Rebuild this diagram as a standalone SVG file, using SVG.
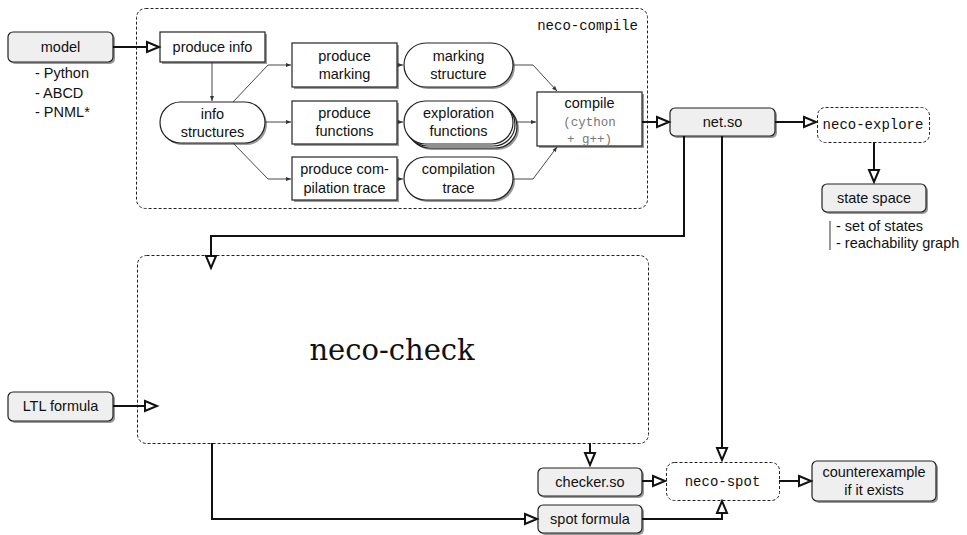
<svg xmlns="http://www.w3.org/2000/svg" width="967" height="535" viewBox="0 0 967 535">
<style>
  .sans { font-family: "Liberation Sans", Arial, sans-serif; font-size: 14.5px; fill: #111; }
  .mono { font-family: "Liberation Mono", "DejaVu Sans Mono", monospace; font-size: 14px; fill: #111; }
  .gmono { font-family: "Liberation Mono", "DejaVu Sans Mono", monospace; font-size: 12.5px; fill: #777; }
  .big { font-family: "DejaVu Serif", "Liberation Serif", serif; font-size: 29px; fill: #111; }
  .grey { fill: #efefef; stroke: #222; stroke-width: 1.2; }
  .white { fill: #fff; stroke: #222; stroke-width: 1.2; }
  .shadow { fill: #9a9a9a; stroke: none; }
  .dash { fill: none; stroke: #222; stroke-width: 1; stroke-dasharray: 3 2; }
  .thick { fill: none; stroke: #111; stroke-width: 2; marker-end: url(#hollow); }
  .thin { fill: none; stroke: #333; stroke-width: 0.9; marker-end: url(#small); }
</style>
<defs>
  <marker id="hollow" markerUnits="userSpaceOnUse" viewBox="-2 -2 17 14" refX="12" refY="5" markerWidth="17" markerHeight="14" orient="auto">
    <path d="M0,0 L12,5 L0,10 Z" fill="#fff" stroke="#111" stroke-width="2" stroke-linejoin="miter"/>
  </marker>
  <marker id="small" markerUnits="userSpaceOnUse" viewBox="0 0 5 4" refX="5" refY="2" markerWidth="5" markerHeight="4" orient="auto">
    <path d="M0,0 L5,2 L0,4 Z" fill="#333"/>
  </marker>
</defs>

<!-- containers -->
<g id="neco-compile">
  <rect class="dash" x="136.5" y="8.5" width="511" height="200" rx="9"/>
  <text class="mono" x="638" y="30" text-anchor="end">neco-compile</text>
</g>
<g id="neco-check">
  <rect class="dash" x="137.5" y="255.5" width="511" height="188" rx="9"/>
  <text class="big" x="392" y="360" text-anchor="middle">neco-check</text>
</g>

<!-- nodes -->
<g id="model">
  <rect class="shadow" x="10" y="34" width="105" height="30" rx="5"/>
  <rect class="grey" x="8" y="32" width="105" height="30" rx="5"/>
  <text class="sans" x="60.5" y="52" text-anchor="middle">model</text>
  <text class="sans" x="35" y="78">- Python</text>
  <text class="sans" x="35" y="98">- ABCD</text>
  <text class="sans" x="35" y="117">- PNML*</text>
</g>
<g id="produce-info">
  <rect class="shadow" x="162" y="34" width="105" height="30"/>
  <rect class="white" x="160" y="32" width="105" height="30"/>
  <text class="sans" x="212.5" y="52" text-anchor="middle">produce info</text>
</g>
<g id="info-structures">
  <rect class="shadow" x="162" y="104" width="105" height="41" rx="20.5"/>
  <rect class="white" x="160" y="102" width="105" height="41" rx="20.5"/>
  <text class="sans" x="212.5" y="119" text-anchor="middle">info</text>
  <text class="sans" x="212.5" y="137" text-anchor="middle">structures</text>
</g>
<g id="produce-marking">
  <rect class="shadow" x="294" y="45" width="105" height="44"/>
  <rect class="white" x="292" y="43" width="105" height="44"/>
  <text class="sans" x="344.5" y="61" text-anchor="middle">produce</text>
  <text class="sans" x="344.5" y="79" text-anchor="middle">marking</text>
</g>
<g id="marking-structure">
  <rect class="shadow" x="406" y="45" width="109" height="44" rx="22"/>
  <rect class="white" x="404" y="43" width="109" height="44" rx="22"/>
  <text class="sans" x="458.5" y="61" text-anchor="middle">marking</text>
  <text class="sans" x="458.5" y="79" text-anchor="middle">structure</text>
</g>
<g id="produce-functions">
  <rect class="shadow" x="294" y="103" width="105" height="43"/>
  <rect class="white" x="292" y="101" width="105" height="43"/>
  <text class="sans" x="344.5" y="118" text-anchor="middle">produce</text>
  <text class="sans" x="344.5" y="136" text-anchor="middle">functions</text>
</g>
<g id="exploration-functions">
  <rect class="shadow" x="410" y="107" width="109" height="43" rx="21.5"/>
  <rect class="white" x="408" y="105" width="109" height="43" rx="21.5"/>
  <rect class="white" x="406" y="103" width="109" height="43" rx="21.5"/>
  <rect class="white" x="404" y="101" width="109" height="43" rx="21.5"/>
  <text class="sans" x="458.5" y="118" text-anchor="middle">exploration</text>
  <text class="sans" x="458.5" y="136" text-anchor="middle">functions</text>
</g>
<g id="produce-compilation-trace">
  <rect class="shadow" x="294" y="159" width="105" height="43"/>
  <rect class="white" x="292" y="157" width="105" height="43"/>
  <text class="sans" x="344.5" y="174" text-anchor="middle">produce com-</text>
  <text class="sans" x="344.5" y="193" text-anchor="middle">pilation trace</text>
</g>
<g id="compilation-trace">
  <rect class="shadow" x="406" y="159" width="109" height="43" rx="21.5"/>
  <rect class="white" x="404" y="157" width="109" height="43" rx="21.5"/>
  <text class="sans" x="458.5" y="174" text-anchor="middle">compilation</text>
  <text class="sans" x="458.5" y="193" text-anchor="middle">trace</text>
</g>
<g id="compile">
  <rect class="shadow" x="539" y="94" width="105" height="54"/>
  <rect class="white" x="537" y="92" width="105" height="54"/>
  <text class="sans" x="589.5" y="108" text-anchor="middle">compile</text>
  <text class="gmono" x="589.5" y="126" text-anchor="middle">(cython</text>
  <text class="gmono" x="589.5" y="143" text-anchor="middle">+ g++)</text>
</g>
<g id="net-so">
  <rect class="shadow" x="672" y="110" width="105" height="28" rx="5"/>
  <rect class="grey" x="670" y="108" width="105" height="28" rx="5"/>
  <text class="sans" x="722.5" y="127" text-anchor="middle">net.so</text>
</g>
<g id="neco-explore">
  <rect class="dash" x="817.5" y="107.5" width="112" height="35" rx="8"/>
  <text class="mono" x="873" y="129" text-anchor="middle">neco-explore</text>
</g>
<g id="state-space">
  <rect class="shadow" x="824" y="186" width="104" height="28" rx="5"/>
  <rect class="grey" x="822" y="184" width="104" height="28" rx="5"/>
  <text class="sans" x="874" y="203" text-anchor="middle">state space</text>
  <line x1="830" y1="221" x2="830" y2="250" stroke="#333" stroke-width="1"/>
  <text class="sans" x="836" y="231">- set of states</text>
  <text class="sans" x="836" y="248">- reachability graph</text>
</g>
<g id="ltl-formula">
  <rect class="shadow" x="10" y="394" width="105" height="29" rx="5"/>
  <rect class="grey" x="8" y="392" width="105" height="29" rx="5"/>
  <text class="sans" x="60.5" y="411" text-anchor="middle">LTL formula</text>
</g>
<g id="checker-so">
  <rect class="shadow" x="540" y="470" width="104" height="28" rx="5"/>
  <rect class="grey" x="538" y="468" width="104" height="28" rx="5"/>
  <text class="sans" x="590" y="487" text-anchor="middle">checker.so</text>
</g>
<g id="spot-formula">
  <rect class="shadow" x="540" y="507" width="104" height="28" rx="5"/>
  <rect class="grey" x="538" y="505" width="104" height="28" rx="5"/>
  <text class="sans" x="590" y="524" text-anchor="middle">spot formula</text>
</g>
<g id="neco-spot">
  <rect class="dash" x="666.5" y="462.5" width="113" height="38" rx="8"/>
  <text class="mono" x="722.5" y="486" text-anchor="middle">neco-spot</text>
</g>
<g id="counterexample">
  <rect class="shadow" x="814" y="463" width="124" height="40" rx="5"/>
  <rect class="grey" x="812" y="461" width="124" height="40" rx="5"/>
  <text class="sans" x="874" y="477" text-anchor="middle">counterexample</text>
  <text class="sans" x="874" y="495" text-anchor="middle">if it exists</text>
</g>

<!-- connectors -->
<g id="connectors">
  <path class="thin" d="M212,62 L212,101"/>
  <path class="thin" d="M233,102 L268,65 L291,65"/>
  <path class="thin" d="M265,122 L291,122"/>
  <path class="thin" d="M233,143 L268,179 L291,179"/>
  <path class="thin" d="M397,65 L403,65"/>
  <path class="thin" d="M397,122 L403,122"/>
  <path class="thin" d="M397,179 L403,179"/>
  <path class="thin" d="M513,65 L533,65 L557,91"/>
  <path class="thin" d="M517,122 L536,122"/>
  <path class="thin" d="M513,179 L533,179 L557,147"/>

  <path class="thick" d="M113,47 L159,47"/>
  <path class="thick" d="M642,122 L669,122"/>
  <path class="thick" d="M775,122 L816,122"/>
  <path class="thick" d="M874,142 L874,182"/>
  <path class="thick" d="M684,136 L684,236 L211,236 L211,268"/>
  <path class="thick" d="M722,136 L722,460"/>
  <path class="thick" d="M113,406 L157,406"/>
  <path class="thick" d="M590,443 L590,465"/>
  <path class="thick" d="M642,481 L665,481"/>
  <path class="thick" d="M779,481 L811,481"/>
  <path class="thick" d="M212,443 L212,519 L537,519"/>
  <path class="thick" d="M642,519 L722,519 L722,501"/>
</g>
</svg>
